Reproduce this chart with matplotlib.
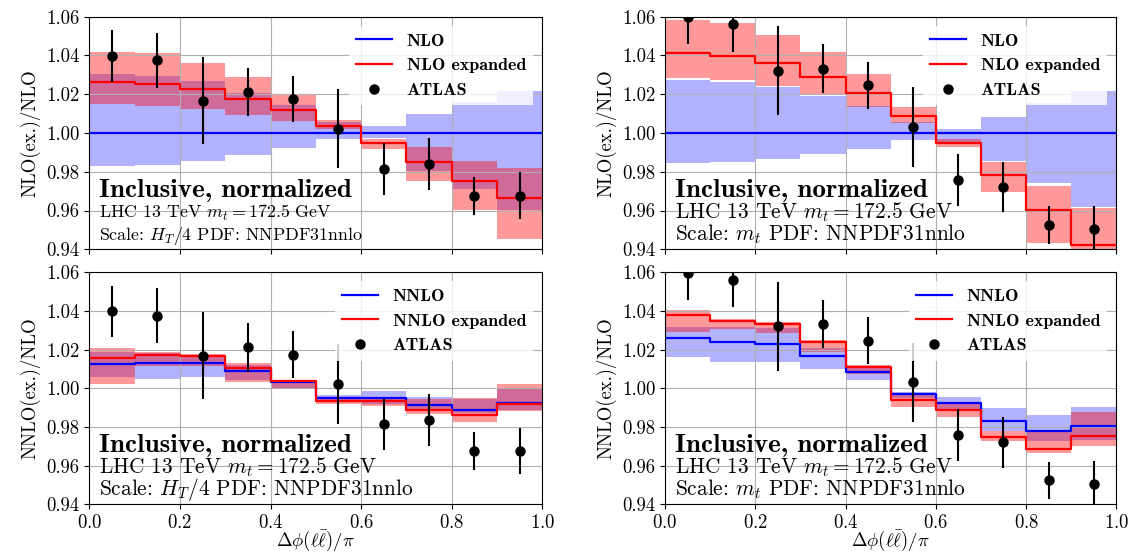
import numpy as np
import matplotlib
matplotlib.use("Agg")
import matplotlib.pyplot as plt

plt.rcParams['font.family'] = 'serif'
plt.rcParams['font.serif'] = ['cmr10']
plt.rcParams['mathtext.fontset'] = 'cm'
plt.rcParams['axes.formatter.use_mathtext'] = True

# bins in dphi/pi
edges = [0.0, 0.1, 0.2, 0.3, 0.4, 0.5, 0.6, 0.7, 0.8, 0.9, 1.0]
centers = [0.05, 0.15, 0.25, 0.35, 0.45, 0.55, 0.65, 0.75, 0.85, 0.95]

# ATLAS data (ratio to NLO), HT/4 scale and mt scale
atlas_ht = [1.0397, 1.0375, 1.0167, 1.0211, 1.0174, 1.0022, 0.9813, 0.9838, 0.9675, 0.9677]
atlas_ht_err = [0.0133, 0.0143, 0.0225, 0.0125, 0.0120, 0.0205, 0.0133, 0.0134, 0.0099, 0.0120]
atlas_mt = [1.0597, 1.0562, 1.0321, 1.0332, 1.0246, 1.0031, 0.9758, 0.9720, 0.9524, 0.9503]
atlas_mt_err = [0.0140, 0.0142, 0.0230, 0.0126, 0.0120, 0.0205, 0.0133, 0.0130, 0.0097, 0.0120]

# --- NLO, scale HT/4 ---
nlo_ht = [1.0, 1.0, 1.0, 1.0, 1.0, 1.0, 1.0, 1.0, 1.0, 1.0]
nlo_ht_lo = [0.9832, 0.9837, 0.9857, 0.9887, 0.9921, 0.9970, 0.9975, 0.9804, 0.9710, 0.9603]
nlo_ht_hi = [1.0303, 1.0294, 1.0268, 1.0208, 1.0144, 1.0057, 1.0036, 1.0098, 1.0160, 1.0215]
nloex_ht = [1.0265, 1.0255, 1.0225, 1.0175, 1.0120, 1.0038, 0.9950, 0.9849, 0.9754, 0.9663]
nloex_ht_lo = [1.0148, 1.0139, 1.0126, 1.0093, 1.0060, 1.0019, 0.9916, 0.9752, 0.9603, 0.9453]
nloex_ht_hi = [1.0420, 1.0413, 1.0363, 1.0287, 1.0198, 1.0067, 0.9967, 0.9929, 0.9855, 0.9818]

# --- NLO, scale mt ---
nlo_mt = [1.0, 1.0, 1.0, 1.0, 1.0, 1.0, 1.0, 1.0, 1.0, 1.0]
nlo_mt_lo = [0.9847, 0.9850, 0.9866, 0.9890, 0.9918, 0.9962, 0.9950, 0.9855, 0.9740, 0.9616]
nlo_mt_hi = [1.0273, 1.0265, 1.0235, 1.0193, 1.0139, 1.0057, 1.0022, 1.0081, 1.0153, 1.0218]
nloex_mt = [1.0414, 1.0399, 1.0359, 1.0289, 1.0208, 1.0089, 0.9950, 0.9783, 0.9603, 0.9420]
nloex_mt_lo = [1.0285, 1.0273, 1.0242, 1.0196, 1.0136, 1.0053, 0.9929, 0.9697, 0.9430, 0.9250]
nloex_mt_hi = [1.0583, 1.0566, 1.0507, 1.0416, 1.0304, 1.0136, 0.9967, 0.9849, 0.9725, 0.9612]

# --- NNLO, scale HT/4 ---
nnlo_ht = [1.0126, 1.0133, 1.0128, 1.0088, 1.0030, 0.9950, 0.9950, 0.9914, 0.9888, 0.9923]
nnlo_ht_lo = [1.0060, 1.0047, 1.0060, 1.0043, 1.0000, 0.9940, 0.9920, 0.9888, 0.9870, 0.9885]
nnlo_ht_hi = [1.0185, 1.0180, 1.0170, 1.0120, 1.0043, 0.9964, 0.9984, 0.9957, 0.9945, 1.0000]
nnloex_ht = [1.0157, 1.0171, 1.0166, 1.0107, 1.0035, 0.9935, 0.9935, 0.9888, 0.9860, 0.9920]
nnloex_ht_lo = [1.0022, 1.0116, 1.0116, 1.0031, 0.9998, 0.9918, 0.9910, 0.9866, 0.9828, 0.9880]
nnloex_ht_hi = [1.0207, 1.0185, 1.0178, 1.0130, 1.0045, 0.9955, 0.9955, 0.9943, 0.9948, 1.0022]

# --- NNLO, scale mt ---
nnlo_mt = [1.0262, 1.0241, 1.0227, 1.0167, 1.0084, 0.9970, 0.9922, 0.9831, 0.9778, 0.9803]
nnlo_mt_lo = [1.0164, 1.0134, 1.0134, 1.0098, 1.0043, 0.9950, 0.9895, 0.9778, 0.9726, 0.9735]
nnlo_mt_hi = [1.0315, 1.0315, 1.0310, 1.0207, 1.0110, 0.9983, 0.9957, 0.9898, 0.9863, 0.9903]
nnloex_mt = [1.0379, 1.0348, 1.0331, 1.0238, 1.0112, 0.9939, 0.9888, 0.9748, 0.9687, 0.9752]
nnloex_mt_lo = [1.0290, 1.0305, 1.0288, 1.0185, 1.0075, 0.9902, 0.9853, 0.9726, 0.9663, 0.9704]
nnloex_mt_hi = [1.0402, 1.0357, 1.0341, 1.0247, 1.0120, 0.9965, 0.9930, 0.9778, 0.9772, 0.9875]


def ext(v):
    # repeat last value so step='post' covers the last bin
    return np.append(v, v[-1])


def draw_panel(ax, line, lo, hi, exline, exlo, exhi, data, err, names, scale, small):
    ax.grid(True, color='#b0b0b0', lw=0.8)
    ax.fill_between(edges, ext(lo), ext(hi), step='post', color='blue', alpha=0.3, lw=0)
    ax.fill_between(edges, ext(exlo), ext(exhi), step='post', color='red', alpha=0.4, lw=0)
    ax.step(edges, ext(line), where='post', color='blue', lw=1.6, label=names[0])
    ax.step(edges, ext(exline), where='post', color='red', lw=1.6, label=names[1])
    ax.errorbar(centers, data, yerr=err, fmt='none', ecolor='black', elinewidth=1.5)
    ax.plot(centers, data, 'o', color='black', ms=6.5, label='ATLAS')
    ax.set_xlim(0, 1)
    ax.set_ylim(0.94, 1.06)
    ax.set_yticks([0.94, 0.96, 0.98, 1.00, 1.02, 1.04, 1.06])
    ax.set_yticklabels(['0.94', '0.96', '0.98', '1.00', '1.02', '1.04', '1.06'])
    ax.set_xticks([0.0, 0.2, 0.4, 0.6, 0.8, 1.0])
    ax.tick_params(labelsize=13.5)
    ax.legend(loc='upper right', prop={'family': 'cmb10', 'size': 13},
              frameon=True, framealpha=0.8, edgecolor='none', fancybox=False)
    ax.text(0.021, 0.225, 'Inclusive, normalized', transform=ax.transAxes,
            fontfamily='cmb10', fontsize=19.5, va='baseline')
    fs = 12.9 if small else 15.4
    ax.text(0.021, 0.134, r'LHC 13 TeV $m_t = 172.5$ GeV', transform=ax.transAxes,
            fontsize=fs, va='baseline')
    ax.text(0.021, 0.038, 'Scale: ' + scale + ' PDF: NNPDF31nnlo', transform=ax.transAxes,
            fontsize=fs, va='baseline')


fig = plt.figure(figsize=(11.31, 5.54), dpi=100)
ax_tl = fig.add_axes([0.079, 0.55, 0.4005, 0.42])
ax_tr = fig.add_axes([0.588, 0.55, 0.399, 0.42])
ax_bl = fig.add_axes([0.079, 0.0897, 0.4005, 0.419])
ax_br = fig.add_axes([0.588, 0.0897, 0.399, 0.419])

draw_panel(ax_tl, nlo_ht, nlo_ht_lo, nlo_ht_hi, nloex_ht, nloex_ht_lo, nloex_ht_hi,
           atlas_ht, atlas_ht_err, ['NLO', 'NLO expanded'], r'$H_T/4$', True)
draw_panel(ax_tr, nlo_mt, nlo_mt_lo, nlo_mt_hi, nloex_mt, nloex_mt_lo, nloex_mt_hi,
           atlas_mt, atlas_mt_err, ['NLO', 'NLO expanded'], r'$m_t$', False)
draw_panel(ax_bl, nnlo_ht, nnlo_ht_lo, nnlo_ht_hi, nnloex_ht, nnloex_ht_lo, nnloex_ht_hi,
           atlas_ht, atlas_ht_err, ['NNLO', 'NNLO expanded'], r'$H_T/4$', False)
draw_panel(ax_br, nnlo_mt, nnlo_mt_lo, nnlo_mt_hi, nnloex_mt, nnloex_mt_lo, nnloex_mt_hi,
           atlas_mt, atlas_mt_err, ['NNLO', 'NNLO expanded'], r'$m_t$', False)

for ax in (ax_tl, ax_tr):
    ax.tick_params(labelbottom=False)
    ax.set_ylabel('NLO(ex.)/NLO', fontsize=13.5)
for ax in (ax_bl, ax_br):
    ax.set_ylabel('NNLO(ex.)/NLO', fontsize=13.5)
    ax.set_xlabel(r'$\Delta\phi(\ell\bar{\ell})/\pi$', fontsize=13.5, labelpad=-2)

fig.savefig('out.png', dpi=100)
